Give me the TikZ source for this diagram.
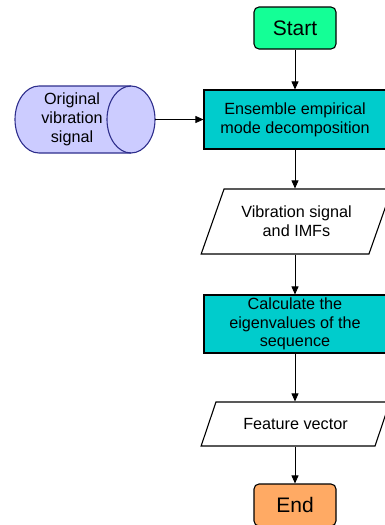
\documentclass[tikz,border=0pt]{standalone}
\usepackage{fontspec}
\setmainfont{Liberation Sans}
\usetikzlibrary{shapes.geometric,arrows.meta}
\definecolor{startgreen}{RGB}{20,255,150}
\definecolor{endorange}{RGB}{255,170,100}
\definecolor{procteal}{RGB}{0,204,204}
\definecolor{drumfill}{RGB}{204,204,255}
\definecolor{drumedge}{RGB}{46,46,140}
\begin{document}
\begin{tikzpicture}[x=1pt,y=-1pt,
  terminal/.style={draw, rounded corners=5pt, minimum width=82pt, minimum height=42pt,
    inner sep=0pt, line width=1.1pt, font=\fontsize{21}{24}\selectfont},
  process/.style={draw, fill=procteal, minimum width=182pt, inner sep=0pt,
    line width=1.1pt, align=center, font=\fontsize{16.2}{18.7}\selectfont},
  io/.style={draw, fill=white, trapezium, trapezium stretches=true, inner sep=0pt,
    line width=1.1pt, align=center, font=\fontsize{16.2}{18.7}\selectfont},
  flow/.style={-{Triangle[length=8pt,width=7pt]}, line width=0.8pt}
]
\useasboundingbox (0,0) rectangle (384,525);

\node[terminal, fill=startgreen] (start) at (295,28) {Start};
\node[process, minimum height=59pt] (eemd) at (295,119.5)
  {Ensemble empirical\\mode decomposition};

% data drum: body with its left end, then the visible right face
\filldraw[draw=drumedge, fill=drumfill, line width=1.1pt]
  (39,86) -- (131,86) arc[start angle=-90, end angle=90, x radius=24, y radius=33.5]
  -- (39,153) arc[start angle=90, end angle=270, x radius=24, y radius=33.5] -- cycle;
\draw[drumedge, line width=1.1pt]
  (131,153) arc[start angle=90, end angle=270, x radius=24, y radius=33.5];
\node[align=center, inner sep=0pt, font=\fontsize{16.2}{18.7}\selectfont] (signal)
  at (72,119.5) {Original\\vibration\\signal};
\coordinate (signalface) at (155,119.5);

\node[io, minimum width=191pt, minimum height=65pt,
  trapezium left angle=60.3, trapezium right angle=119.7] (imfs) at (296.5,221.5)
  {Vibration signal\\and IMFs};
\node[process, minimum height=58pt] (eigen) at (295,324)
  {Calculate the\\eigenvalues of the\\sequence};
\node[io, minimum width=189pt, minimum height=44pt,
  trapezium left angle=49.2, trapezium right angle=130.8] (feat) at (295.5,424)
  {Feature vector};
\node[terminal, fill=endorange] (end) at (295,505) {End};

\draw[flow] (start) -- (eemd);
\draw[flow] (signalface) -- (eemd.west);
\draw[flow] (eemd) -- (eemd.south |- imfs.north);
\draw[flow] (eemd.south |- imfs.south) -- (eigen);
\draw[flow] (eigen) -- (eigen.south |- feat.north);
\draw[flow] (eigen.south |- feat.south) -- (end);
\end{tikzpicture}
\end{document}
